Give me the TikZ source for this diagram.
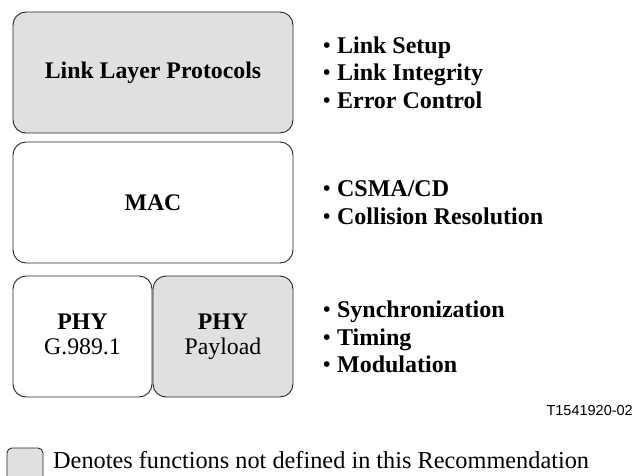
\documentclass[tikz,border=0pt]{standalone}
\usepackage{fontspec}
\setmainfont{Liberation Serif}
\newfontfamily\figsans{Liberation Sans}
\definecolor{notdefgray}{HTML}{E0E0E0}
\newcommand{\dutydot}{{\mdseries •} }
\begin{document}
\begin{tikzpicture}[x=1pt,y=-1pt,
  layer/.style={draw=black!85, line width=0.9pt, rounded corners=13pt, inner sep=0pt,
    align=center, font=\fontsize{23.8}{25}\selectfont},
  notdef/.style={fill=notdefgray},
  duty/.style={anchor=west, align=left, inner sep=0pt,
    font=\bfseries\fontsize{24}{27.5}\selectfont}]
  \useasboundingbox (0,0) rectangle (634,476);
  % protocol stack
  \node[layer, notdef, minimum width=280pt, minimum height=121pt] (llp) at (153,72.5)
    {\textbf{Link Layer Protocols}};
  \node[layer, minimum width=280pt, minimum height=121pt] (mac) at (153,202.5)
    {\textbf{MAC}};
  \node[layer, minimum width=139pt, minimum height=121pt] (phy) at (82.5,336.5)
    {\textbf{PHY}\\G.989.1\vphantom{y}};
  \node[layer, notdef, minimum width=140pt, minimum height=121pt] (payload) at (223,336.5)
    {\textbf{PHY}\\Payload};
  % functions of each layer
  \node[duty] (llpduty) at (322.5,72.5)
    {\dutydot Link Setup\\\dutydot Link Integrity\\\dutydot Error Control};
  \node[duty] (macduty) at (322.5,202.5)
    {\dutydot CSMA/CD\\\dutydot Collision Resolution};
  \node[duty] (phyduty) at (322.5,337)
    {\dutydot Synchronization\\\dutydot Timing\\\dutydot Modulation};
  \node[anchor=base east, inner sep=0pt, font=\figsans\fontsize{14.5}{17}\selectfont]
    (figid) at (633,415) {T1541920-02};
  % legend
  \begin{scope}
    \clip (0,0) rectangle (634,476);
    \node[layer, notdef, rounded corners=5pt, minimum width=36pt, minimum height=34pt]
      (key) at (25,465) {};
  \end{scope}
  \node[anchor=base west, inner sep=0pt, font=\fontsize{24.3}{28}\selectfont]
    (keytext) at (53,468) {Denotes functions not defined in this Recommendation};
\end{tikzpicture}
\end{document}
